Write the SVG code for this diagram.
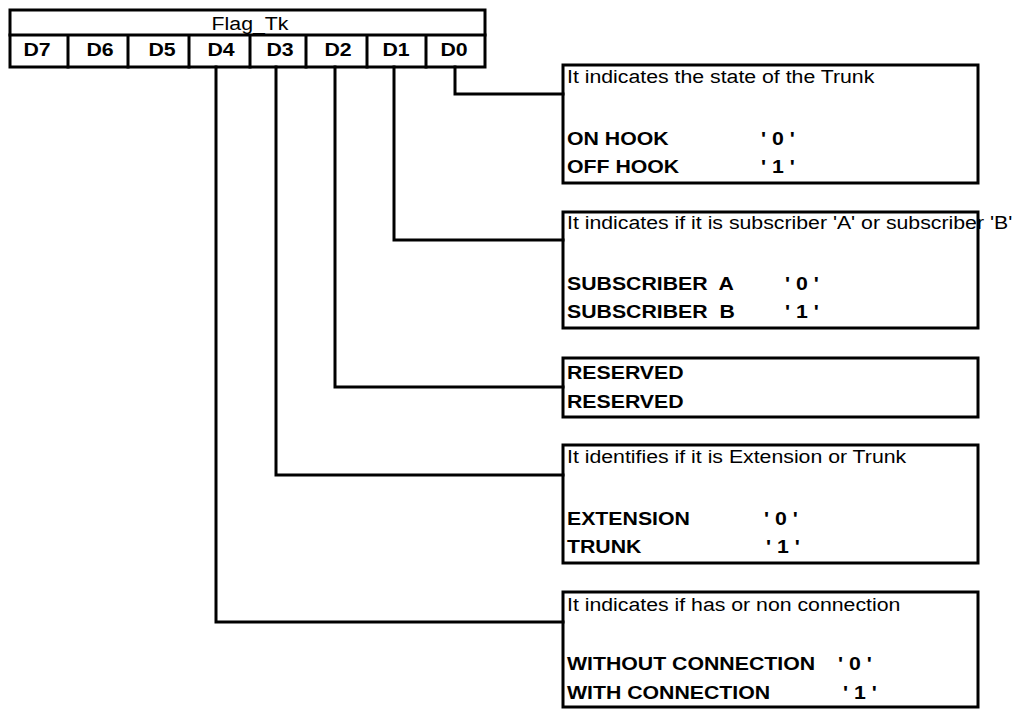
<svg xmlns="http://www.w3.org/2000/svg" width="1016" height="709" viewBox="0 0 1016 709">
<style>
  .bx { fill: none; stroke: #000; stroke-width: 3; }
  .ln { fill: none; stroke: #000; stroke-width: 3; stroke-linecap: square; }
  .t { font-family: "Liberation Sans", Arial, sans-serif; font-size: 19px; fill: #000; white-space: pre; }
  .b { font-weight: bold; }
  .c { text-anchor: middle; }
</style>
<rect x="0" y="0" width="1016" height="709" fill="#fff"/>

<g id="connectors">
  <path class="ln" d="M455 67 V94 H563"/>
  <path class="ln" d="M394 67 V240 H563"/>
  <path class="ln" d="M335 67 V387 H563"/>
  <path class="ln" d="M276 67 V475 H563"/>
  <path class="ln" d="M216 67 V622 H563"/>
</g>

<g id="flag_tk">
  <rect class="bx" x="10" y="10" width="475" height="57" fill="#fff"/>
  <path class="ln" d="M10 35 H485 M68 35 V67 M128 35 V67 M189 35 V67 M250 35 V67 M306 35 V67 M367 35 V67 M426 35 V67"/>
  <text class="t c" transform="translate(250,30) scale(1.12,1)">Flag_Tk</text>
  <text class="t b c" transform="translate(37,56) scale(1.12,1)">D7</text>
  <text class="t b c" transform="translate(100,56) scale(1.12,1)">D6</text>
  <text class="t b c" transform="translate(162,56) scale(1.12,1)">D5</text>
  <text class="t b c" transform="translate(221,56) scale(1.12,1)">D4</text>
  <text class="t b c" transform="translate(280,56) scale(1.12,1)">D3</text>
  <text class="t b c" transform="translate(338,56) scale(1.12,1)">D2</text>
  <text class="t b c" transform="translate(396,56) scale(1.12,1)">D1</text>
  <text class="t b c" transform="translate(454,56) scale(1.12,1)">D0</text>
</g>

<g id="box_d0">
  <text class="t" transform="translate(567,83) scale(1.12,1)">It indicates the state of the Trunk</text>
  <text class="t b" transform="translate(567,145) scale(1.12,1)">ON HOOK</text>
  <text class="t b" transform="translate(567,173) scale(1.12,1)">OFF HOOK</text>
  <text class="t b" transform="translate(761,145) scale(1.12,1)">' 0 '</text>
  <text class="t b" transform="translate(761,173) scale(1.12,1)">' 1 '</text>
  <rect class="bx" x="563" y="65" width="415" height="118"/>
</g>

<g id="box_d1">
  <text class="t" transform="translate(567,229) scale(1.12,1)">It indicates if it is subscriber 'A' or subscriber 'B'</text>
  <text class="t b" transform="translate(567,290) scale(1.12,1)">SUBSCRIBER  A</text>
  <text class="t b" transform="translate(567,318) scale(1.12,1)">SUBSCRIBER  B</text>
  <text class="t b" transform="translate(785,290) scale(1.12,1)">' 0 '</text>
  <text class="t b" transform="translate(785,318) scale(1.12,1)">' 1 '</text>
  <rect class="bx" x="563" y="212" width="415" height="116"/>
</g>

<g id="box_d2">
  <text class="t b" transform="translate(567,379) scale(1.12,1)">RESERVED</text>
  <text class="t b" transform="translate(567,408) scale(1.12,1)">RESERVED</text>
  <rect class="bx" x="563" y="358" width="415" height="59"/>
</g>

<g id="box_d3">
  <text class="t" transform="translate(567,463) scale(1.12,1)">It identifies if it is Extension or Trunk</text>
  <text class="t b" transform="translate(567,525) scale(1.12,1)">EXTENSION</text>
  <text class="t b" transform="translate(567,553) scale(1.12,1)">TRUNK</text>
  <text class="t b" transform="translate(764,525) scale(1.12,1)">' 0 '</text>
  <text class="t b" transform="translate(766,553) scale(1.12,1)">' 1 '</text>
  <rect class="bx" x="563" y="445" width="415" height="118"/>
</g>

<g id="box_d4">
  <text class="t" transform="translate(567,611) scale(1.12,1)">It indicates if has or non connection</text>
  <text class="t b" transform="translate(567,670) scale(1.12,1)">WITHOUT CONNECTION</text>
  <text class="t b" transform="translate(567,699) scale(1.12,1)">WITH CONNECTION</text>
  <text class="t b" transform="translate(838,670) scale(1.12,1)">' 0 '</text>
  <text class="t b" transform="translate(843,699) scale(1.12,1)">' 1 '</text>
  <rect class="bx" x="563" y="592" width="415" height="115"/>
</g>
</svg>
